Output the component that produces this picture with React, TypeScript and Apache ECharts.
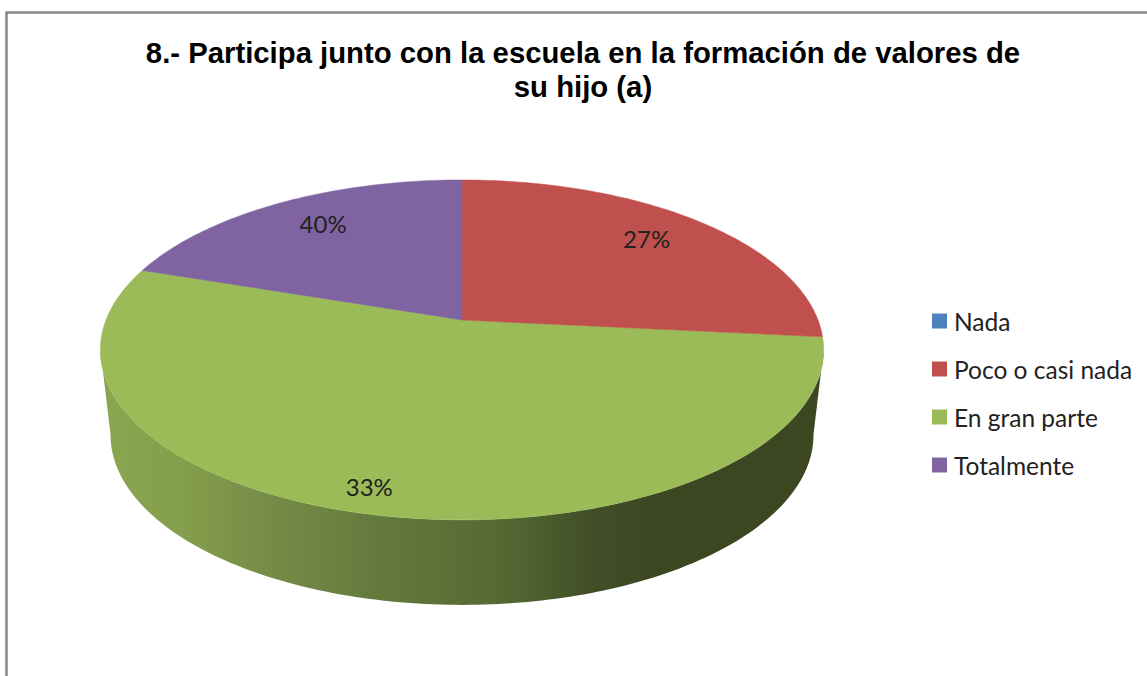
import React, { useEffect, useRef } from "react";
import * as echarts from "echarts";

const categories = ["Nada", "Poco o casi nada", "En gran parte", "Totalmente"];
const shares = [0, 26.6, 53.55, 19.85];
const sliceLabels = ["", "27%", "33%", "40%"];
const colors = ["#4F81BD", "#C0504D", "#9BBB59", "#8064A2"];
const titleLines = [
  "8.- Participa junto con la escuela en la formación de valores de",
  "su hijo (a)",
];

// Perspective disc geometry
const CX = 462;
const P = 0.176;
const TOP = { apexY: 320, R: 356, S: 164.7 };
const BOTTOM = { apexY: 405, R: 346, S: 164.7 };
const RIM_FROM = 100;
const RIM_TO = 260;
const LABEL_RADIUS = [0.78, 0.78, 0.89, 0.78];
const LABEL_NUDGE = [[0, 0], [-4, -3], [-14, -3], [7, -3]];

const rad = (d: number) => (d * Math.PI) / 180;
function project(deg: number, f: number, lv: { apexY: number; R: number; S: number }) {
  const u = Math.sin(rad(deg)) * f;
  const v = Math.cos(rad(deg)) * f;
  const den = 1 + P * v;
  return [CX + (lv.R * u) / den, lv.apexY - (lv.S * v) / den];
}
function arc(a: number, b: number, lv: typeof TOP) {
  const pts: number[][] = [];
  const n = Math.max(2, Math.ceil(Math.abs(b - a)));
  for (let i = 0; i <= n; i++) pts.push(project(a + ((b - a) * i) / n, 1, lv));
  return pts;
}

const total = shares.reduce((s, v) => s + v, 0);

function sliceRender(index: number) {
  return (_params: any, api: any) => {
    const value = api.value(0);
    if (!value) return { type: "group", children: [] };
    const before = shares.slice(0, index).reduce((s, v) => s + v, 0);
    const start = (before / total) * 360;
    const end = ((before + value) / total) * 360;
    const children: any[] = [];
    const rimA = Math.max(start, RIM_FROM);
    const rimB = Math.min(end, RIM_TO);
    if (rimB > rimA) {
      children.push({
        type: "polygon",
        shape: { points: [...arc(rimA, rimB, TOP), ...arc(rimB, rimA, BOTTOM)] },
        style: {
          fill: new echarts.graphic.LinearGradient(0, 0, 1, 0, [
            { offset: 0, color: "#8BA651" },
            { offset: 0.1, color: "#85A04D" },
            { offset: 0.25, color: "#738A45" },
            { offset: 0.4, color: "#62783C" },
            { offset: 0.55, color: "#556A34" },
            { offset: 0.68, color: "#414E27" },
            { offset: 0.78, color: "#3C4722" },
            { offset: 1, color: "#3C4722" },
          ]),
        },
      });
    }
    children.push({
      type: "polygon",
      shape: { points: [[CX, TOP.apexY], ...arc(start, end, TOP)] },
      style: { fill: colors[index], stroke: colors[index], lineWidth: 0.5 },
    });
    const [lx, ly] = project((start + end) / 2, LABEL_RADIUS[index], TOP);
    children.push({
      type: "text",
      z2: 10,
      x: lx + LABEL_NUDGE[index][0],
      y: ly + LABEL_NUDGE[index][1],
      style: {
        text: sliceLabels[index],
        fill: "#222222",
        font: '24px Lato, "Noto Sans", sans-serif',
        align: "center",
        verticalAlign: "middle",
      },
    });
    return { type: "group", children };
  };
}

export default function App() {
  const ref = useRef<HTMLDivElement>(null);
  useEffect(() => {
    const chart = echarts.init(ref.current!, undefined, { renderer: "svg" });
    chart.setOption({
      animation: false,
      backgroundColor: "#ffffff",
      title: {
        text: titleLines.join("\n"),
        left: 578,
        top: 30,
        textAlign: "center",
        textStyle: {
          fontFamily: '"Liberation Sans", Arial, sans-serif',
          fontWeight: "bold",
          fontSize: 29.3,
          lineHeight: 34,
          color: "#000000",
        },
      },
      legend: {
        orient: "vertical",
        left: 927,
        top: 302,
        icon: "rect",
        itemWidth: 15,
        itemHeight: 15,
        itemGap: 20,
        data: categories,
        selectedMode: false,
        textStyle: {
          fontFamily: 'Lato, "Noto Sans", sans-serif',
          fontSize: 24.5,
          color: "#222222",
          lineHeight: 28,
          padding: [0, 0, 0, 2],
        },
      },
      series: categories.map((name, i) => ({
        type: "custom",
        name,
        coordinateSystem: "none",
        silent: true,
        itemStyle: { color: colors[i] },
        renderItem: sliceRender(i),
        data: [shares[i]],
        z: i === 2 ? 1 : 2,
      })),
      graphic: [
        {
          type: "polyline",
          silent: true,
          shape: { points: [[6.5, 676], [6.5, 12.5], [1147, 12.5]] },
          style: { stroke: "#868686", lineWidth: 2.5, fill: "none" },
        },
      ],
    });
    return () => chart.dispose();
  }, []);
  return (
    <div
      ref={ref}
      style={{ position: "absolute", left: 0, top: 0, width: 1147, height: 676 }}
    />
  );
}
